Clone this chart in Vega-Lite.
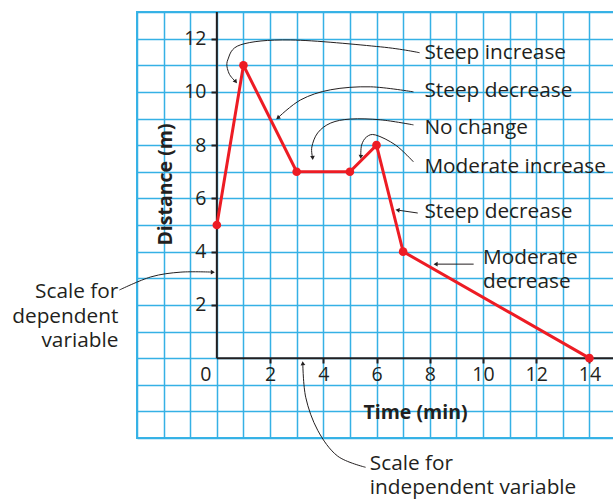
{
  "$schema": "https://vega.github.io/schema/vega-lite/v6.json",
  "autosize": {"type": "none"},
  "width": 479,
  "height": 426,
  "padding": {"left": 137, "top": 12, "right": 0, "bottom": 61},
  "config": {"view": {"stroke": "#3ab4e6", "strokeWidth": 2}},
  "data": {"values": [
      {"x": 0, "y": 5},
      {"x": 1, "y": 11},
      {"x": 3, "y": 7},
      {"x": 5, "y": 7},
      {"x": 6, "y": 8},
      {"x": 7, "y": 4},
      {"x": 14, "y": 0}
  ]},
  "encoding": {
    "x": {
      "field": "x", "type": "quantitative",
      "scale": {"domain": [-3, 15], "nice": false, "zero": false},
      "axis": {
        "values": [-3,-2,-1,0,1,2,3,4,5,6,7,8,9,10,11,12,13,14,15],
        "offset": -80,
        "domain": false,
        "grid": true, "gridColor": "#35b1e5", "gridWidth": 1.5,
        "tickSize": 5, "tickWidth": 2,
        "tickColor": {"condition": {"test": "datum.value > 0 && datum.value % 2 == 0", "value": "#231f20"}, "value": "transparent"},
        "labelExpr": "datum.value > 0 && datum.value % 2 == 0 ? datum.label : ''",
        "labelOverlap": false, "labelFlush": false,
        "labelFont": "Open Sans", "labelFontSize": 19.5, "labelColor": "#231f20", "labelPadding": 2,
        "title": "Time (min)", "titleFont": "Open Sans", "titleFontSize": 19.5, "titleFontWeight": "bold",
        "titleColor": "#231f20", "titleX": 278, "titleY": 54, "titleBaseline": "middle", "titleAlign": "center"
      }
    },
    "y": {
      "field": "y", "type": "quantitative",
      "scale": {"domain": [-3, 13], "nice": false, "zero": false},
      "axis": {
        "values": [-3,-2,-1,0,1,2,3,4,5,6,7,8,9,10,11,12,13],
        "offset": -80,
        "domain": false,
        "grid": true, "gridColor": "#35b1e5", "gridWidth": 1.5,
        "tickSize": 6, "tickWidth": 2,
        "tickColor": {"condition": {"test": "datum.value > 0 && datum.value % 2 == 0", "value": "#231f20"}, "value": "transparent"},
        "labelExpr": "datum.value > 0 && datum.value % 2 == 0 ? datum.label : ''",
        "labelOverlap": false, "labelFlush": false,
        "labelFont": "Open Sans", "labelFontSize": 19.5, "labelColor": "#231f20", "labelPadding": 5,
        "title": "Distance (m)", "titleFont": "Open Sans", "titleFontSize": 19.5, "titleFontWeight": "bold",
        "titleColor": "#231f20", "titleX": -52, "titleY": 172, "titleBaseline": "middle", "titleAlign": "center", "titleAngle": -90
      }
    }
  },
  "layer": [
    {
      "data": {"values": [{"x": 0, "y": 0, "x2": 0, "y2": 13}, {"x": 0, "y": 0, "x2": 15, "y2": 0}]},
      "mark": {"type": "rule", "color": "#231f20", "strokeWidth": 2},
      "encoding": {"x2": {"field": "x2"}, "y2": {"field": "y2"}}
    },
    {
      "mark": {"type": "line", "color": "#ed1c24", "strokeWidth": 3}
    },
    {
      "mark": {"type": "point", "filled": true, "color": "#ed1c24", "size": 75, "opacity": 1}
    },
    {
      "data": {"values": [
        {"label": "Steep increase", "x": 7.8, "y": 11.47},
        {"label": "Steep decrease", "x": 7.8, "y": 10.04},
        {"label": "No change", "x": 7.8, "y": 8.65},
        {"label": "Moderate increase", "x": 7.8, "y": 7.18},
        {"label": "Steep decrease", "x": 7.8, "y": 5.49},
        {"label": "Moderate\ndecrease", "x": 10.0, "y": 3.76},
        {"label": "Scale for\nindependent variable", "x": 5.75, "y": -3.98}
      ]},
      "mark": {"type": "text", "align": "left", "baseline": "middle", "lineBreak": "\n", "lineHeight": 24, "font": "Open Sans", "fontSize": 20.8, "color": "#231f20", "clip": false},
      "encoding": {"text": {"field": "label"}}
    },
    {
      "data": {"values": [
        {"label": "0", "x": -0.2, "y": -0.65}
      ]},
      "mark": {"type": "text", "align": "right", "baseline": "middle", "font": "Open Sans", "fontSize": 19.5, "color": "#231f20", "clip": false},
      "encoding": {"text": {"field": "label"}}
    },
    {
      "data": {"values": [
        {"label": "Scale for\ndependent\nvariable", "x": -3.7, "y": 2.47}
      ]},
      "mark": {"type": "text", "align": "right", "baseline": "middle", "lineBreak": "\n", "lineHeight": 24.5, "font": "Open Sans", "fontSize": 20.8, "color": "#231f20", "clip": false},
      "encoding": {"text": {"field": "label"}}
    },
    {
      "data": {"name": "arrows", "values": [
        {"a": 1, "i": 1, "x": 7.62, "y": 11.47},
        {"a": 1, "i": 2, "x": 6.16, "y": 11.69},
        {"a": 1, "i": 3, "x": 2.78, "y": 11.95},
        {"a": 1, "i": 4, "x": 0.9, "y": 11.77},
        {"a": 1, "i": 5, "x": 0.41, "y": 11.2},
        {"a": 1, "i": 6, "x": 0.45, "y": 10.71},
        {"a": 1, "i": 7, "x": 0.71, "y": 10.38},
        {"a": 2, "i": 1, "x": 7.39, "y": 10.0},
        {"a": 2, "i": 2, "x": 5.78, "y": 10.19},
        {"a": 2, "i": 3, "x": 4.28, "y": 10.08},
        {"a": 2, "i": 4, "x": 3.15, "y": 9.7},
        {"a": 2, "i": 5, "x": 2.29, "y": 9.02},
        {"a": 3, "i": 1, "x": 7.39, "y": 8.76},
        {"a": 3, "i": 2, "x": 6.16, "y": 8.95},
        {"a": 3, "i": 3, "x": 5.03, "y": 8.98},
        {"a": 3, "i": 4, "x": 4.28, "y": 8.83},
        {"a": 3, "i": 5, "x": 3.79, "y": 8.46},
        {"a": 3, "i": 6, "x": 3.57, "y": 7.93},
        {"a": 3, "i": 7, "x": 3.6, "y": 7.52},
        {"a": 4, "i": 1, "x": 7.39, "y": 7.37},
        {"a": 4, "i": 2, "x": 6.72, "y": 8.0},
        {"a": 4, "i": 3, "x": 5.97, "y": 8.38},
        {"a": 4, "i": 4, "x": 5.63, "y": 8.31},
        {"a": 4, "i": 5, "x": 5.44, "y": 8.0},
        {"a": 4, "i": 6, "x": 5.41, "y": 7.56},
        {"a": 5, "i": 1, "x": 7.55, "y": 5.45},
        {"a": 5, "i": 2, "x": 6.79, "y": 5.56},
        {"a": 6, "i": 1, "x": 9.65, "y": 3.53},
        {"a": 6, "i": 2, "x": 8.22, "y": 3.53},
        {"a": 7, "i": 1, "x": -3.66, "y": 2.56},
        {"a": 7, "i": 2, "x": -2.48, "y": 3.05},
        {"a": 7, "i": 3, "x": -1.35, "y": 3.23},
        {"a": 7, "i": 4, "x": -0.15, "y": 3.23},
        {"a": 8, "i": 1, "x": 5.59, "y": -4.1},
        {"a": 8, "i": 2, "x": 4.54, "y": -3.68},
        {"a": 8, "i": 3, "x": 3.79, "y": -2.71},
        {"a": 8, "i": 4, "x": 3.34, "y": -1.47},
        {"a": 8, "i": 5, "x": 3.23, "y": -0.19}
      ]},
      "mark": {"type": "line", "color": "#231f20", "strokeWidth": 1, "interpolate": "cardinal", "clip": false},
      "encoding": {
        "detail": {"field": "a"},
        "order": {"field": "i"}
      }
    },
    {
      "data": {"name": "arrows"},
      "transform": [
        {"window": [{"op": "lag", "field": "x", "as": "px"}, {"op": "lag", "field": "y", "as": "py"}], "groupby": ["a"], "sort": [{"field": "i", "order": "ascending"}]},
        {"joinaggregate": [{"op": "max", "field": "i", "as": "last"}], "groupby": ["a"]},
        {"filter": "datum.i == datum.last"},
        {"calculate": "atan2(datum.x - datum.px, datum.y - datum.py) * 180 / PI", "as": "dir"}
      ],
      "mark": {"type": "point", "shape": "triangle-up", "filled": true, "color": "#231f20", "size": 22, "opacity": 1, "clip": false},
      "encoding": {
        "angle": {"field": "dir", "type": "quantitative", "scale": null}
      }
    }
  ]
}
